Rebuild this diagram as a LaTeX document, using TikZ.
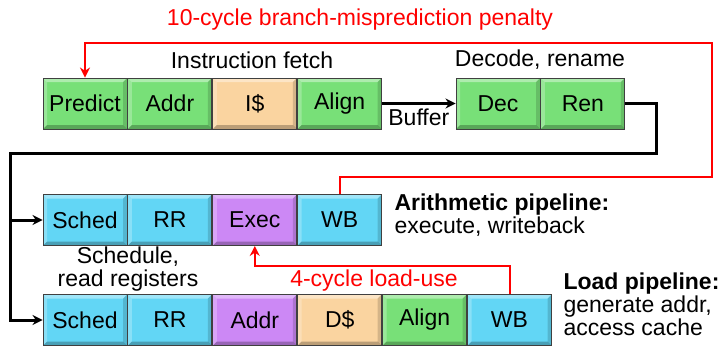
\documentclass[tikz,border=0pt]{standalone}
\usepackage{fontspec}
\setmainfont{Liberation Sans}
\usetikzlibrary{positioning}
\usetikzlibrary{arrows.meta}
\definecolor{stagegreen}{RGB}{120,224,120}
\definecolor{stagepeach}{RGB}{250,212,160}
\definecolor{stageblue}{RGB}{98,214,245}
\definecolor{stagepurple}{RGB}{204,136,245}
\definecolor{penaltyred}{RGB}{255,0,0}
\tikzset{>={Stealth[length=10pt,width=10pt]}}
\tikzset{
	% pipeline stage box with a raised edge
	stage/.style={draw=black!75,line width=0.9pt,minimum width=84pt,minimum height=51pt,inner sep=0pt,
		path picture={
			\fill[white,opacity=0.4] (path picture bounding box.north west) -- (path picture bounding box.north east)
				-- ([shift={(-4pt,-4pt)}]path picture bounding box.north east) -- ([shift={(4pt,-4pt)}]path picture bounding box.north west) -- cycle;
			\fill[white,opacity=0.25] (path picture bounding box.north west) -- (path picture bounding box.south west)
				-- ([shift={(4pt,4pt)}]path picture bounding box.south west) -- ([shift={(4pt,-4pt)}]path picture bounding box.north west) -- cycle;
			\fill[black,opacity=0.25] (path picture bounding box.south west) -- (path picture bounding box.south east)
				-- ([shift={(-4pt,4pt)}]path picture bounding box.south east) -- ([shift={(4pt,4pt)}]path picture bounding box.south west) -- cycle;
			\fill[black,opacity=0.15] (path picture bounding box.north east) -- (path picture bounding box.south east)
				-- ([shift={(-4pt,4pt)}]path picture bounding box.south east) -- ([shift={(-4pt,-4pt)}]path picture bounding box.north east) -- cycle;
		}},
	green/.style={stage,fill=stagegreen},
	peach/.style={stage,fill=stagepeach},
	blue/.style={stage,fill=stageblue},
	purple/.style={stage,fill=stagepurple},
	flow/.style={line width=3pt},
	penalty/.style={penaltyred,line width=2pt},
}

\begin{document}
\begin{tikzpicture}[x=1pt,y=-1pt,font=\fontsize{23}{23}\selectfont,node distance=0pt]
	\useasboundingbox (0,0) rectangle (723,349);

	% front end
	\node[green] (predict) at (85,103.5) {Predict};
	\node[green,right=of predict] (faddr) {Addr};
	\node[peach,right=of faddr] (icache) {I\$};
	\node[green,right=of icache] (falign) {Align};
	\node[green] (dec) at (498,103.5) {Dec};
	\node[green,right=of dec] (ren) {Ren};

	% arithmetic pipeline
	\node[blue] (asched) at (85,220) {Sched};
	\node[blue,right=of asched] (arr) {RR};
	\node[purple,right=of arr] (exec) {Exec};
	\node[blue,right=of exec] (awb) {WB};

	% load pipeline
	\node[blue] (lsched) at (85,320) {Sched};
	\node[blue,right=of lsched] (lrr) {RR};
	\node[purple,right=of lrr] (laddr) {Addr};
	\node[peach,right=of laddr] (dcache) {D\$};
	\node[green,right=of dcache] (lalign) {Align};
	\node[blue,right=of lalign] (lwb) {WB};

	% labels
	\node (fetchlbl) at (252,60) {Instruction fetch};
	\node (declbl) at (540,60) {Decode, rename};
	\node[align=center] (schedlbl) at (128,269) {Schedule,\\read registers};
	\node[anchor=west,align=left] (arithlbl) at (391,215) {\textbf{Arithmetic pipeline:}\\execute, writeback};
	\node[anchor=west,align=left] (loadlbl) at (560,304) {\textbf{Load pipeline:}\\generate addr,\\access cache};

	% connectors
	\coordinate (split) at (10,153);
	\draw[flow,->] (falign.east) -- (dec.west) node[midway,below=1pt] (bufferlbl) {Buffer};
	\draw[flow,->] (ren.east) -- ++(31,0) |- (split) |- (lsched.west);
	\draw[flow,->] (split |- asched.west) -- (asched.west);

	% penalties
	\coordinate (penaltyturn) at (712,43);
	\draw[penalty,->] (awb.north) -- ++(0,-17) -| (penaltyturn) -| (predict.north);
	\node[penaltyred] (mispredlbl) at (360,20) {10-cycle branch-misprediction penalty};
	\draw[penalty,->] (lwb.north) -- ++(0,-28) -| (exec.south);
	\node[penaltyred] (loaduselbl) at (374,281) {4-cycle load-use};
\end{tikzpicture}
\end{document}
